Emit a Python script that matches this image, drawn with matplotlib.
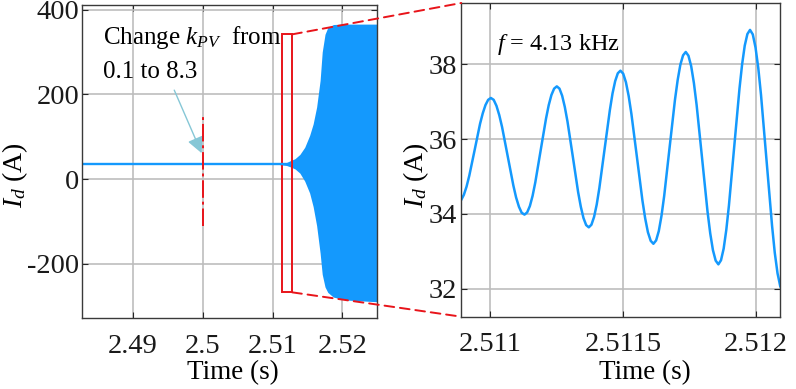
import numpy as np
import matplotlib
matplotlib.use("Agg")
import matplotlib.pyplot as plt
from matplotlib.patches import Rectangle, ConnectionPatch, FancyArrowPatch
from matplotlib.ticker import FuncFormatter

plt.rcParams['font.family'] = ['Liberation Serif', 'DejaVu Serif']
plt.rcParams['mathtext.fontset'] = 'custom'
plt.rcParams['mathtext.rm'] = 'Liberation Serif'
plt.rcParams['mathtext.it'] = 'Liberation Serif:italic'
plt.rcParams['axes.unicode_minus'] = False

# ---- left panel: steady current before instability, then growing oscillation envelope
steady_t = [2.4827, 2.5125]
steady_i = [36, 36]

env_t = [2.5110, 2.5120, 2.5125, 2.5132, 2.5139, 2.5146, 2.5153, 2.5158, 2.5163,
         2.5168, 2.5171, 2.5175, 2.5179, 2.5187, 2.5200, 2.5206, 2.5250]
env_upper = [37, 39, 43, 48, 58, 75, 103, 130, 170, 233, 300, 342, 358, 365, 366, 366, 366]
env_lower = [34, 32, 29, 24, 14, -5, -33, -65, -110, -175, -225, -255, -268, -279, -284, -286, -290]

change_t = 2.5
change_span = [-112, 151]
zoom_box_t = [2.511286, 2.5128]
zoom_box_i = [-267.7, 341.8]

# ---- right panel: zoomed waveform
zoom_t = [2.5108794, 2.5108896, 2.5108997, 2.5109099, 2.5109201, 2.5109404, 2.5109607, 2.5109709, 2.5109811, 2.5109912,
          2.5110014, 2.5110120, 2.5110225, 2.5110331, 2.5110437, 2.5110649, 2.5110861, 2.5110964, 2.5111072, 2.5111175,
          2.5111281, 2.5111382, 2.5111484, 2.5111585, 2.5111687, 2.5111890, 2.5112092, 2.5112194, 2.5112295, 2.5112397,
          2.5112498, 2.5112598, 2.5112699, 2.5112799, 2.5112900, 2.5113101, 2.5113301, 2.5113402, 2.5113502, 2.5113603,
          2.5113703, 2.5113802, 2.5113902, 2.5114001, 2.5114100, 2.5114299, 2.5114497, 2.5114596, 2.5114696, 2.5114795,
          2.5114894, 2.5114998, 2.5115101, 2.5115205, 2.5115308, 2.5115515, 2.5115722, 2.5115826, 2.5115929, 2.5116033,
          2.5116136, 2.5116238, 2.5116339, 2.5116441, 2.5116542, 2.5116745, 2.5116948, 2.5117050, 2.5117151, 2.5117253,
          2.5117354, 2.5117456, 2.5117559, 2.5117661, 2.5117764, 2.5117969, 2.5118173, 2.5118276, 2.5118378, 2.5118481,
          2.5118583, 2.5118682, 2.5118782, 2.5118881, 2.5118980, 2.5119179, 2.5119378, 2.5119477, 2.5119576, 2.5119676,
          2.5119775, 2.5119879, 2.5119982, 2.5120086, 2.5120189, 2.5120397, 2.5120604, 2.5120707, 2.5120811, 2.5120914,
          2.5121018]
zoom_i = [34.32, 34.37, 34.51, 34.73, 35.02, 35.71, 36.41, 36.69, 36.91, 37.05,
          37.10, 37.05, 36.89, 36.64, 36.32, 35.54, 34.76, 34.44, 34.19, 34.03,
          33.98, 34.04, 34.21, 34.48, 34.84, 35.70, 36.55, 36.91, 37.18, 37.35,
          37.41, 37.35, 37.16, 36.86, 36.47, 35.53, 34.58, 34.19, 33.89, 33.70,
          33.64, 33.71, 33.92, 34.25, 34.69, 35.74, 36.78, 37.22, 37.55, 37.76,
          37.83, 37.75, 37.52, 37.15, 36.67, 35.52, 34.36, 33.88, 33.51, 33.28,
          33.20, 33.29, 33.54, 33.95, 34.48, 35.77, 37.05, 37.58, 37.99, 38.24,
          38.33, 38.23, 37.95, 37.50, 36.91, 35.49, 34.07, 33.48, 33.03, 32.75,
          32.65, 32.76, 33.07, 33.57, 34.22, 35.79, 37.35, 38.00, 38.50, 38.81,
          38.92, 38.80, 38.45, 37.90, 37.18, 35.43, 33.69, 32.96, 32.41, 32.06,
          31.94]

left_xticks = [2.49, 2.5, 2.51, 2.52]
left_yticks = [-200, 0, 200, 400]
right_xticks = [2.511, 2.5115, 2.512]
right_yticks = [32, 34, 36, 38]

blue = '#1499fd'
red = '#e8141a'

fig = plt.figure(figsize=(7.96, 3.89), dpi=100)
ax1 = fig.add_axes([0.1026, 0.1818, 0.3716, 0.8041])
ax2 = fig.add_axes([0.5794, 0.1859, 0.4009, 0.8064])

for ax in (ax1, ax2):
    ax.grid(True, color='#bdbdbd', lw=1.2)
    ax.set_axisbelow(True)
    ax.tick_params(direction='in', length=4, width=0.8, top=True, right=True,
                   labelsize=20.5, colors='#262626', labelcolor='#1a1a1a')
    ax.tick_params(axis='x', pad=11)
    for s in ax.spines.values():
        s.set_color('#3a3a3a')
        s.set_linewidth(1.0)
    ax.xaxis.set_major_formatter(FuncFormatter(lambda v, p: '%g' % v))
    ax.yaxis.set_major_formatter(FuncFormatter(lambda v, p: '%g' % v))

ax1.tick_params(axis='y', pad=1.5)
ax2.tick_params(axis='y', pad=3)

# left panel
ax1.plot(steady_t, steady_i, color=blue, lw=1.7)
ax1.fill_between(env_t, env_lower, env_upper, color=blue, lw=0)
ax1.plot([change_t, change_t], change_span, color=red, lw=1.4, dashes=(9, 2, 1.5, 2))
ax1.add_patch(Rectangle((zoom_box_t[0], zoom_box_i[0]), zoom_box_t[1] - zoom_box_t[0],
                        zoom_box_i[1] - zoom_box_i[0], fill=False, ec=red, lw=1.4))
ax1.add_patch(FancyArrowPatch((2.49594, 210), (2.49986, 61), arrowstyle='-|>,head_length=0.7,head_width=0.35',
                              mutation_scale=14, color='#86c7d6', lw=1.0, shrinkA=0, shrinkB=0))
ax1.text(0.071, 0.876, r'Change $k_{PV}$  from', transform=ax1.transAxes, fontsize=18, va='baseline')
ax1.text(0.071, 0.767, '0.1 to 8.3', transform=ax1.transAxes, fontsize=18, va='baseline')
ax1.set_xlim(2.4827, 2.525)
ax1.set_ylim(-329, 410)
ax1.set_xticks(left_xticks)
ax1.set_yticks(left_yticks)

# right panel
ax2.plot(zoom_t, zoom_i, color=blue, lw=1.8, solid_joinstyle='round')
ax2.text(0.111, 0.850, r'$f$ = 4.13 kHz', transform=ax2.transAxes, fontsize=17.5, va='baseline')
ax2.set_xlim(2.5108897, 2.5120916)
ax2.set_ylim(31.25, 39.64)
ax2.set_xticks(right_xticks)
ax2.set_yticks(right_yticks)

# zoom connectors
for yb, ya in ((zoom_box_i[1], 1.0), (zoom_box_i[0], 0.0)):
    con = ConnectionPatch(xyA=(zoom_box_t[1], yb), coordsA=ax1.transData,
                          xyB=(0.0, ya), coordsB=ax2.transAxes,
                          color=red, lw=1.4, linestyle=(0, (5, 3)))
    fig.add_artist(con)

fig.text(0.0195, 0.550, r'$I_d$ (A)', rotation=90, ha='center', va='center', fontsize=20)
fig.text(0.5226, 0.550, r'$I_d$ (A)', rotation=90, ha='center', va='center', fontsize=20)
fig.text(0.2927, 0.0424, 'Time (s)', ha='center', va='center', fontsize=19.5)
fig.text(0.8103, 0.0424, 'Time (s)', ha='center', va='center', fontsize=19.5)

fig.savefig('out.png', dpi=100)
